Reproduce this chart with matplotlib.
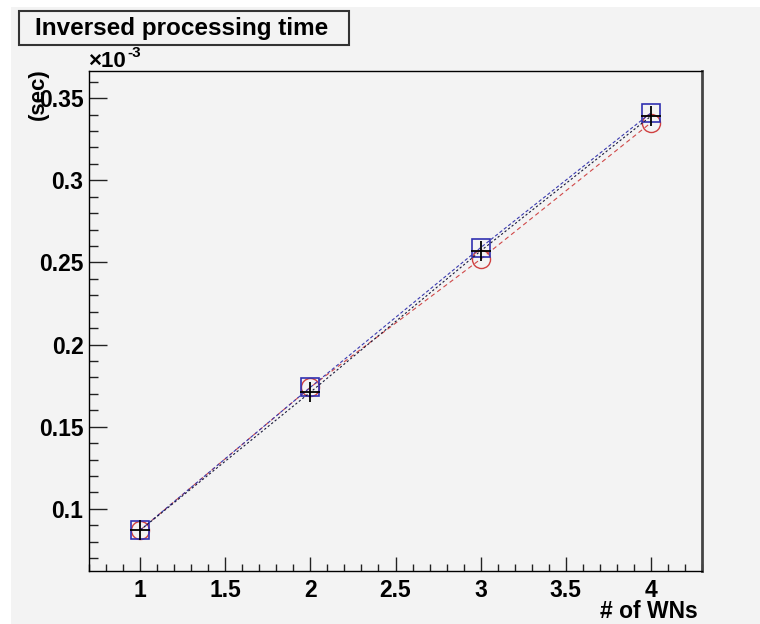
import matplotlib
matplotlib.use('Agg')
import matplotlib.pyplot as plt
from matplotlib.patches import Rectangle
from matplotlib.ticker import MultipleLocator, FuncFormatter

# number of worker nodes
n_wns = [1, 2, 3, 4]
# inversed processing time, in units of 1e-3 / sec
inv_time_cross = [0.087, 0.171, 0.257, 0.339]
inv_time_square = [0.087, 0.174, 0.259, 0.341]
inv_time_circle = [0.087, 0.174, 0.252, 0.335]

BG = '#f3f3f3'
plt.rcParams['font.family'] = ['Liberation Sans', 'DejaVu Sans']
plt.rcParams['font.weight'] = 'bold'

fig = plt.figure(figsize=(7.6, 6.24), dpi=100)
fig.patch.set_facecolor('white')
fig.patches.append(Rectangle((11/760, 0), 1, 1 - 7/624, transform=fig.transFigure,
                             facecolor=BG, edgecolor='none', zorder=-10))

ax = fig.add_axes([89/760, 1 - 571/624, 613/760, 500/624])
ax.set_facecolor(BG)

ax.plot(n_wns, inv_time_circle, color='#d04848', ls=(0, (4, 3)), lw=0.8,
        marker='o', ms=13, mfc='none', mec='#d04040', mew=1.0)
ax.plot(n_wns, inv_time_square, color='#3a3ab0', ls=(0, (3, 2)), lw=0.8,
        marker='s', ms=13, mfc='none', mec='#3030b0', mew=1.2)
ax.plot(n_wns, inv_time_cross, color='#181838', ls=(0, (2, 2)), lw=0.8,
        marker='+', ms=14, mec='black', mew=1.3)

ax.set_xlim(0.7, 4.3)
ax.set_ylim(0.0622, 0.3665)

ax.xaxis.set_major_locator(MultipleLocator(0.5))
ax.xaxis.set_minor_locator(MultipleLocator(0.1))
ax.yaxis.set_major_locator(MultipleLocator(0.05))
ax.yaxis.set_minor_locator(MultipleLocator(0.01))
ax.xaxis.set_major_formatter(FuncFormatter(lambda v, p: ('%g' % v)))
ax.yaxis.set_major_formatter(FuncFormatter(lambda v, p: ('%g' % round(v, 3))))

ax.tick_params(axis='both', which='both', direction='in', top=False, right=False,
               labelsize=16.5, width=1.0, color='#222222')
ax.tick_params(axis='x', which='major', length=10, pad=6)
ax.tick_params(axis='x', which='minor', length=5)
ax.tick_params(axis='y', which='major', length=13, pad=4)
ax.tick_params(axis='y', which='minor', length=6.5)
for lab in ax.get_xticklabels() + ax.get_yticklabels():
    lab.set_fontweight('bold')

for side in ['left', 'bottom', 'top']:
    ax.spines[side].set_linewidth(1.0)
    ax.spines[side].set_color('black')
ax.spines['right'].set_linewidth(2.0)
ax.spines['right'].set_color('#444444')

ax.text(-0.083, 1.006, '(sec)', transform=ax.transAxes, rotation=90,
        ha='center', va='top', fontsize=16, fontweight='bold')
ax.text(-0.002, 1.008, '\u00d710', transform=ax.transAxes, ha='left', va='baseline',
        fontsize=16, fontweight='bold')
ax.text(0.063, 1.028, '-3', transform=ax.transAxes, ha='left', va='baseline',
        fontsize=11, fontweight='bold', zorder=1)

# title box
fig.patches.append(Rectangle((19/760, 1 - 45/624), 330/760, 34/624, transform=fig.transFigure,
                             facecolor=BG, edgecolor='#333333', lw=1.5, zorder=5))
fig.text(35/760, 1 - 28/624, 'Inversed processing time', fontsize=17.5, fontweight='bold',
         ha='left', va='center', zorder=6)

fig.text(698/760, 1 - 612/624, '# of WNs', fontsize=16.5, fontweight='bold',
         ha='right', va='center')

fig.savefig('out.png', dpi=100, facecolor=fig.get_facecolor())
